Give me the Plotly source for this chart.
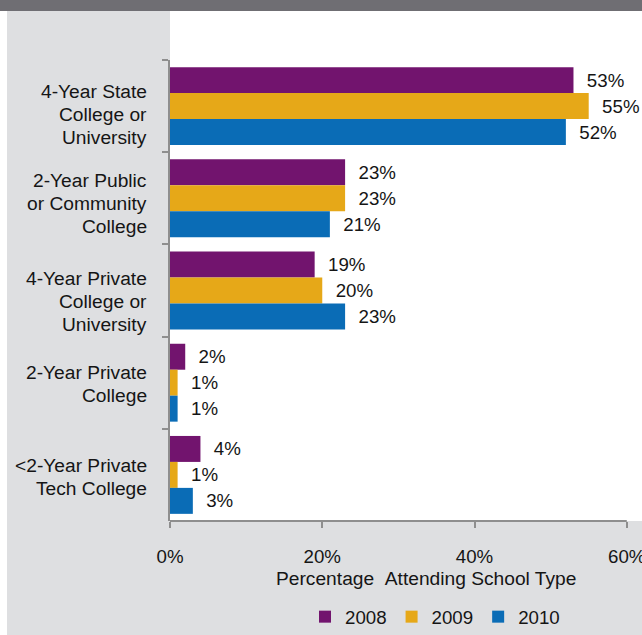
import plotly.graph_objects as go

# School types (top to bottom) and share of students attending each, by year
categories = [
    "4-Year State<br>College or<br>University",
    "2-Year Public<br>or Community<br>College",
    "4-Year Private<br>College or<br>University",
    "2-Year Private<br>College",
    "<2-Year Private<br>Tech College",
]
years = ["2008", "2009", "2010"]
pct_2008 = [53, 23, 19, 2, 4]
pct_2009 = [55, 23, 20, 1, 1]
pct_2010 = [52, 21, 23, 1, 3]
x_ticks = [0, 20, 40, 60]
x_tick_labels = ["0%", "20%", "40%", "60%"]

series = [pct_2008, pct_2009, pct_2010]
colors = ["#72146e", "#e6a818", "#0a6cb6"]

FONT = "Liberation Sans, Arial, sans-serif"
FS = 18.7
FS_CAT = 19.2
TXT = "#151515"
AXIS = "#8e8e8e"
NB = "\u00a0"

fig = go.Figure()
for yr, vals, col in zip(years, series, colors):
    fig.add_trace(go.Bar(
        name=yr,
        y=categories,
        x=vals,
        orientation="h",
        marker=dict(color=col, line=dict(width=0)),
        text=[f"{NB}{NB}{v}%" for v in vals],
        texttemplate="%{text}",
        textposition="outside",
        textfont=dict(family=FONT, size=FS, color=TXT),
        constraintext="none",
        cliponaxis=False,
        hoverinfo="skip",
    ))

W, H = 642, 635
ML, MR, MT, MB = 170, 0, 60, 114
pw, ph = W - ML - MR, H - MT - MB


def px_x(v):
    return (v - ML) / pw


def px_y(v):
    return (H - MB - v) / ph


shapes = [
    # white area above the plot
    dict(type="rect", xref="paper", yref="paper", x0=0, x1=1, y0=1, y1=px_y(11),
         fillcolor="white", line=dict(width=0), layer="below"),
    # white strip along the left edge
    dict(type="rect", xref="paper", yref="paper", x0=px_x(0), x1=px_x(7), y0=px_y(H), y1=px_y(11),
         fillcolor="white", line=dict(width=0), layer="below"),
    # dark header band
    dict(type="rect", xref="paper", yref="paper", x0=px_x(0), x1=1, y0=px_y(11), y1=px_y(0),
         fillcolor="#6f6e73", line=dict(width=0), layer="below"),
    # x axis baseline from 0% to 60%
    dict(type="line", xref="x", yref="paper", x0=x_ticks[0], x1=x_ticks[-1], y0=0, y1=0,
         line=dict(color=AXIS, width=2)),
]

annotations = [
    dict(text=f"Percentage{NB}{NB}Attending School Type", xref="paper", yref="paper",
         x=px_x(426), y=px_y(578), xanchor="center", yanchor="middle", showarrow=False,
         font=dict(family=FONT, size=FS_CAT, color=TXT)),
]

# category labels, one annotation per line, right-aligned left of the axis;
# label_drop nudges each block downward within its band (px)
LINE_STEP = 23
label_drop = [8, 5, 10.5, 1, 2]
for cat, drop in zip(categories, label_drop):
    lines = cat.split("<br>")
    n = len(lines)
    for i, ln in enumerate(lines):
        annotations.append(dict(
            text=ln, xref="paper", yref="y", x=px_x(149), y=cat,
            xanchor="right", yanchor="middle", showarrow=False,
            yshift=-((i - (n - 1) / 2) * LINE_STEP + drop),
            font=dict(family=FONT, size=FS_CAT, color=TXT),
        ))

fig.update_layout(
    width=W, height=H,
    margin=dict(l=ML, r=MR, t=MT, b=MB, pad=0, autoexpand=False),
    paper_bgcolor="#dedfe1",
    plot_bgcolor="white",
    barmode="group",
    bargap=0.155,
    bargroupgap=0,
    font=dict(family=FONT, size=FS, color=TXT),
    shapes=shapes,
    annotations=annotations,
    showlegend=True,
    legend=dict(orientation="h", x=px_x(305), y=px_y(598), xanchor="left", yanchor="top",
                bgcolor="rgba(0,0,0,0)", font=dict(family=FONT, size=FS, color=TXT),
                itemclick=False, itemdoubleclick=False, traceorder="normal"),
    xaxis=dict(range=[0, 62], tickvals=x_ticks, ticktext=x_tick_labels,
               showgrid=False, zeroline=False, showline=False, automargin=False,
               ticks="outside", ticklen=6, tickwidth=2, tickcolor=AXIS,
               ticklabelstandoff=13, ticklabeloverflow="allow",
               tickfont=dict(family=FONT, size=FS, color=TXT), fixedrange=True),
    yaxis=dict(type="category", autorange="reversed", showgrid=False, zeroline=False,
               showline=True, linecolor=AXIS, linewidth=2, automargin=False,
               tickson="boundaries", ticks="outside", ticklen=6, tickwidth=2, tickcolor=AXIS,
               showticklabels=False, fixedrange=True),
)

fig.write_html("out.html", config={"displayModeBar": False})
